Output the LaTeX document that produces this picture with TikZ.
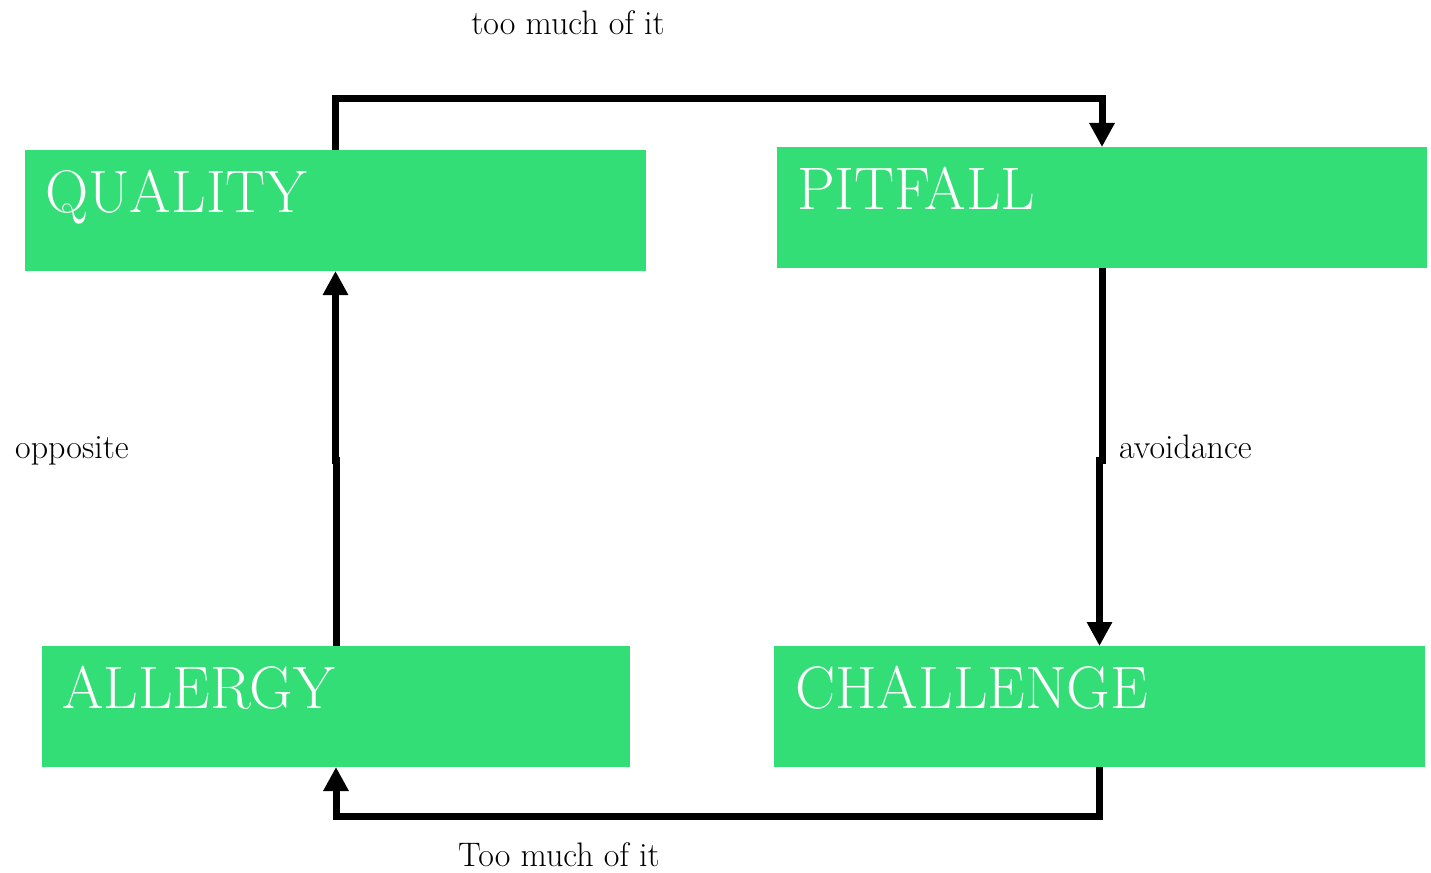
\documentclass[tikz,border=0pt]{standalone}
\usetikzlibrary{arrows.meta}
\definecolor{boxgreen}{RGB}{51,222,118}
\begin{document}
\begin{tikzpicture}[x=1pt,y=-1pt,
  box/.style={draw=none,fill=boxgreen,inner sep=0pt,outer sep=0pt,anchor=north west},
  boxtext/.style={text=white,font=\fontsize{60}{66}\selectfont,inner sep=0pt,anchor=base west},
  lbl/.style={font=\fontsize{34}{38}\selectfont,inner sep=0pt,anchor=base west},
  link/.style={line width=7pt,line join=miter,-{Triangle[width=24pt,length=24pt]}}]
\useasboundingbox (0,0) rectangle (1431,872);

% the four boxes
\node[box,minimum width=621pt,minimum height=121pt] (Q) at (25,150) {};
\node[box,minimum width=650pt,minimum height=121pt] (P) at (777,147) {};
\node[box,minimum width=588pt,minimum height=121pt] (A) at (42,646) {};
\node[box,minimum width=651pt,minimum height=121pt] (C) at (774,646) {};

% box titles
\node[boxtext] (Qt) at (45,212) {QUALITY};
\node[boxtext] (Pt) at (797,209) {PITFALL};
\node[boxtext] (At) at (62,708) {ALLERGY};
\node[boxtext] (Ct) at (795,708) {CHALLENGE};

% routing helpers
\coordinate (railtop) at (0,99);
\coordinate (railbot) at (0,816);
\coordinate (mid) at (0,460);

% connectors
\draw[link] (Q.north) -- (Q.north |- railtop) -- (P.north |- railtop) -- (P.north);
\draw[link] (P.south) -- (P.south |- mid) -| (C.north);
\draw[link] (C.south) -- (C.south |- railbot) -- (A.south |- railbot) -- (A.south);
\draw[link] (A.north) -- (A.north |- mid) -| (Q.south);

% connector labels
\node[lbl,anchor=base] (l1) at (568,35) {too\ much\ of\ it};
\node[lbl] (l2) at (15,458) {opposite};
\node[lbl] (l3) at (1119,458) {avoidance};
\node[lbl,anchor=base] (l4) at (559,866) {Too\ much\ of\ it};
\end{tikzpicture}
\end{document}
